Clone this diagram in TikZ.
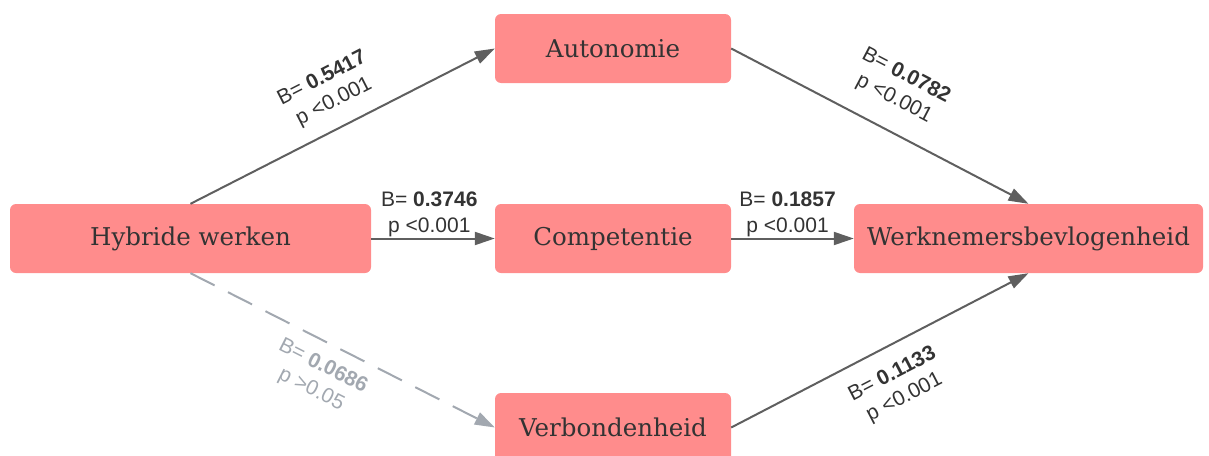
\documentclass[tikz,border=0pt]{standalone}
\usepackage{fontspec}
\setmainfont{DejaVu Serif}
\newfontfamily\lblfont{Liberation Sans}
\usepackage{tikz}
\usetikzlibrary{arrows.meta, positioning}

\definecolor{boxred}{HTML}{FF8C8C}
\definecolor{boxtext}{HTML}{333333}
\definecolor{pathdark}{HTML}{5F5F5F}
\definecolor{pathlight}{HTML}{A2A8B0}

\begin{document}
\begin{tikzpicture}[
    x=1pt, y=-1pt,
    factor/.style={fill=boxred, rounded corners=6pt, minimum height=69pt, inner sep=0pt,
        text=boxtext, font=\fontsize{24.5}{29}\selectfont},
    effect/.style={draw=pathdark, line width=2pt, -{Triangle[length=20pt, width=13pt]}},
    weak/.style={draw=pathlight, line width=2pt, dash pattern=on 27pt off 15pt,
        -{Triangle[length=20pt, width=13pt]}},
    coef/.style={align=center, text=boxtext, font=\lblfont\fontsize{21}{26}\selectfont, inner sep=0pt},
]
\useasboundingbox (0,0) rectangle (1209,455);

% Boxes
\node[factor, minimum width=361pt] (hyb) at (190.5,238.5) {Hybride werken};
\node[factor, minimum width=236pt] (aut) at (613,48.5) {Autonomie};
\node[factor, minimum width=236pt] (comp) at (613,238.5) {Competentie};
\node[factor, minimum width=236pt] (verb) at (613,427.5) {Verbondenheid};
\node[factor, minimum width=349pt] (bev) at (1028.5,238.5) {Werknemersbevlogenheid};

% Paths to the mediators
\draw[effect] (hyb.north) -- node[coef, sloped, above=15pt, pos=0.51] {B= \textbf{0.5417}\\p <0.001} (aut.west);
\draw[effect] (hyb.east) -- node[coef, above=1pt, pos=0.47] {B= \textbf{0.3746}\\p <0.001} (comp.west);
\draw[weak] (hyb.south) -- node[coef, sloped, below=13pt, pos=0.47, text=pathlight] {B= \textbf{0.0686}\\p >0.05} (verb.west);

% Paths to the outcome
\draw[effect] (aut.east) -- node[coef, sloped, above=20pt, pos=0.50] {B= \textbf{0.0782}\\p <0.001} (bev.north);
\draw[effect] (comp.east) -- node[coef, above=1pt, pos=0.46] {B= \textbf{0.1857}\\p <0.001} (bev.west);
\draw[effect] (verb.east) -- node[coef, sloped, below=17pt, pos=0.50] {B= \textbf{0.1133}\\p <0.001} (bev.south);

\end{tikzpicture}
\end{document}
